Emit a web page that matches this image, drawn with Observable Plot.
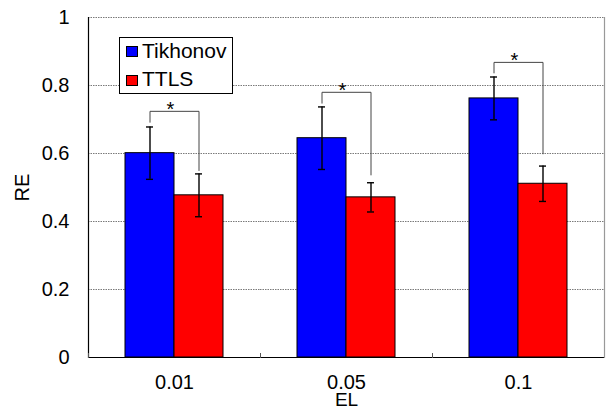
<!DOCTYPE html>
<html>
<head>
<meta charset="utf-8">
<script src="https://cdn.jsdelivr.net/npm/d3@7"></script>
<script src="https://cdn.jsdelivr.net/npm/@observablehq/plot@0.6"></script>
<style>
  html, body { margin: 0; padding: 0; background: #fff; }
  #wrap { position: relative; width: 608px; height: 409px; font-family: Arial, "Liberation Sans", sans-serif; }
  #legend { position: absolute; left: 119px; top: 37px; width: 114px; height: 57px; box-sizing: border-box;
            border: 1px solid #000; background: #fff; }
  .sw { position: absolute; left: 6px; width: 12px; height: 11px; box-sizing: border-box; border: 1px solid #000; }
  .lt { position: absolute; left: 22px; font-size: 21px; line-height: 21px; color: #000; white-space: nowrap; }
</style>
</head>
<body>
<div id="wrap"></div>
<script>
// ---- data ----
const groups = ["0.01", "0.05", "0.1"];
const seriesNames = ["Tikhonov", "TTLS"];
const seriesColors = ["#0000ff", "#ff0000"];
const tikhonov = [0.601, 0.645, 0.762];
const tikhonovErr = [0.077, 0.092, 0.063];
const ttls = [0.477, 0.471, 0.511];
const ttlsErr = [0.063, 0.043, 0.052];
// significance brackets: top level, end of left drop, end of right drop
const bracketTop = [0.724, 0.780, 0.868];
const bracketLeftEnd = [0.692, 0.748, 0.837];
const bracketRightEnd = [0.550, 0.537, 0.599];
const yTicks = [0, 0.2, 0.4, 0.6, 0.8, 1];
const gridTicks = [0.2, 0.4, 0.6, 0.8, 1];

// ---- tables built from arrays ----
const rows = [];
groups.forEach((g, i) => {
  rows.push({group: g, series: seriesNames[0], value: tikhonov[i], err: tikhonovErr[i]});
  rows.push({group: g, series: seriesNames[1], value: ttls[i], err: ttlsErr[i]});
});
const bracketPts = [];
const starRows = [];
groups.forEach((g, i) => {
  bracketPts.push({group: g, series: seriesNames[0], y: bracketLeftEnd[i]});
  bracketPts.push({group: g, series: seriesNames[0], y: bracketTop[i]});
  bracketPts.push({group: g, series: seriesNames[1], y: bracketTop[i]});
  bracketPts.push({group: g, series: seriesNames[1], y: bracketRightEnd[i]});
  starRows.push({group: g, y: bracketTop[i]});
});

const font = "Arial, 'Liberation Sans', sans-serif";

const chart = Plot.plot({
  width: 608,
  height: 409,
  marginLeft: 87,
  marginRight: 4,
  marginTop: 17,
  marginBottom: 52,
  style: {fontFamily: font, fontSize: "20px", color: "#000", background: "#fff", overflow: "visible"},
  fx: {domain: groups, paddingInner: 0, paddingOuter: 0, axis: null},
  x: {domain: seriesNames, paddingInner: 0, paddingOuter: 0.746, axis: null},
  y: {domain: [0, 1], axis: null},
  color: {domain: seriesNames, range: seriesColors},
  marks: [
    Plot.ruleY(gridTicks, {stroke: "#7a7a7a", strokeWidth: 1, strokeDasharray: "1.5,1"}),
    Plot.barY(rows, {fx: "group", x: "series", y: "value", fill: "series", stroke: "#000", strokeWidth: 1, inset: 0}),
    Plot.ruleX(rows, {fx: "group", x: "series", y1: d => d.value - d.err, y2: d => d.value + d.err, stroke: "#000", strokeWidth: 1.4}),
    Plot.tickY(rows, {fx: "group", x: "series", y: d => d.value - d.err, stroke: "#000", strokeWidth: 1.4, insetLeft: 21, insetRight: 21}),
    Plot.tickY(rows, {fx: "group", x: "series", y: d => d.value + d.err, stroke: "#000", strokeWidth: 1.4, insetLeft: 21, insetRight: 21}),
    Plot.line(bracketPts, {fx: "group", x: "series", y: "y", z: "group", stroke: "#444", strokeWidth: 1}),
    Plot.text(starRows, {fx: "group", y: "y", text: () => "*", dx: -4, dy: -2, fontSize: 20, fill: "#000"}),
    Plot.ruleY([0], {stroke: "#000", strokeWidth: 1.2}),
    Plot.frame({anchor: "left", facetAnchor: "left", stroke: "#000", strokeWidth: 1.2}),
    Plot.frame({anchor: "right", facetAnchor: "right", stroke: "#999", strokeWidth: 1.2}),
    Plot.frame({anchor: "left", stroke: "#555", strokeWidth: 1, insetTop: 336}),
    Plot.axisY({ticks: yTicks, tickFormat: d => String(d), tickSize: 0, tickPadding: 19, fontSize: 20,
                label: "RE", labelArrow: "none", labelAnchor: "center", labelOffset: 74}),
    Plot.axisFx({anchor: "bottom", tickSize: 0, tickPadding: 17.5, fontSize: 20, label: null}),
    Plot.axisFx({anchor: "bottom", ticks: [], tickSize: 0, fontSize: 19,
                 label: "EL", labelAnchor: "center", labelOffset: 48.5})
  ]
});

const wrap = document.getElementById("wrap");
wrap.appendChild(chart);

// legend (inside plot area)
const legend = document.createElement("div");
legend.id = "legend";
seriesNames.forEach((name, i) => {
  const sw = document.createElement("div");
  sw.className = "sw";
  sw.style.top = (8 + i * 28.5) + "px";
  sw.style.background = seriesColors[i];
  legend.appendChild(sw);
  const t = document.createElement("div");
  t.className = "lt";
  t.style.top = (2.3 + i * 28) + "px";
  t.textContent = name;
  legend.appendChild(t);
});
wrap.appendChild(legend);
</script>
</body>
</html>
